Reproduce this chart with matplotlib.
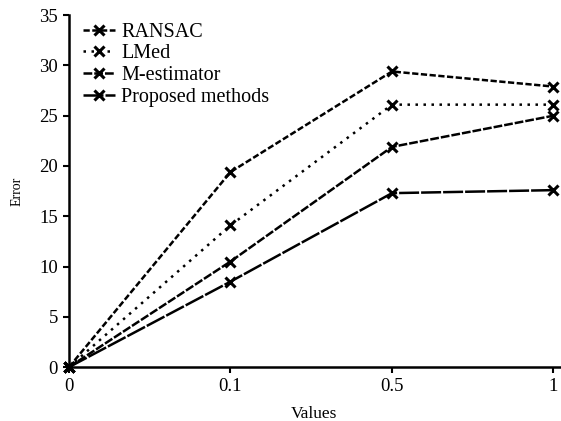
import matplotlib.pyplot as plt

# === Data ===
x_labels = ["0", "0.1", "0.5", "1"]
ransac = [0, 19.4, 29.4, 27.9]
lmed = [0, 14.1, 26.1, 26.1]
m_estimator = [0, 10.5, 21.9, 25.0]
proposed = [0, 8.5, 17.3, 17.6]

plt.rcParams['font.family'] = ['Liberation Serif', 'DejaVu Serif']

fig = plt.figure(figsize=(5.61, 4.21), dpi=100)
ax = fig.add_axes([0.123, 0.128, 0.875, 0.836])

xs = range(len(x_labels))
style = dict(color='black', marker='x', markersize=7, markeredgewidth=2.2,
             linewidth=1.8, clip_on=False)
ax.plot(xs, ransac, dashes=(2.5, 1), label="RANSAC", **style)
ax.plot(xs, lmed, dashes=(1, 2.2), label="LMed", **style)
ax.plot(xs, m_estimator, dashes=(3.5, 0.8), label="M-estimator", **style)
ax.plot(xs, proposed, dashes=(8, 0.8), label="Proposed methods", **style)

ax.set_xlim(0, 3.04)
ax.set_ylim(0, 35)
ax.set_xticks(list(xs))
ax.set_xticklabels(x_labels)
ax.set_yticks(range(0, 36, 5))
ax.tick_params(direction='out', length=4, width=1.5, labelsize=13.5, pad=4)
for s in ['top', 'right']:
    ax.spines[s].set_visible(False)
for s in ['left', 'bottom']:
    ax.spines[s].set_linewidth(1.8)

ax.set_xlabel("Values", fontsize=12.5, labelpad=8)
ax.set_ylabel("Error", fontsize=10, labelpad=11)

ax.legend(loc='upper left', bbox_to_anchor=(0.0, 1.019), frameon=False,
          fontsize=14.5, handlelength=1.6, handletextpad=0.3, labelspacing=0.13,
          borderaxespad=0.3)

fig.savefig("out.png", dpi=100)
